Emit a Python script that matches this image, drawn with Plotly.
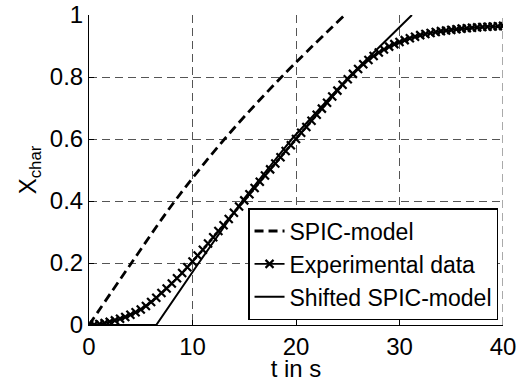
import plotly.graph_objects as go

# SPIC-model (dashed)
spic_t = [0, 4.1, 8.3, 13.1, 18.6, 24.7]
spic_v = [0, 0.2, 0.4, 0.6, 0.8, 1.0]

# Shifted SPIC-model (solid)
shift_t = [0, 6.5, 10.6, 14.8, 19.6, 25.1, 31.2]
shift_v = [0, 0, 0.2, 0.4, 0.6, 0.8, 1.0]

# Experimental data (line with x markers)
exp_t = [i * 0.5 for i in range(81)]
exp_v = [0, 0.001, 0.003, 0.006, 0.01, 0.015, 0.02, 0.026, 0.033, 0.041,
         0.05, 0.061, 0.074, 0.088, 0.103, 0.118, 0.134, 0.151, 0.168, 0.186,
         0.205, 0.224, 0.243, 0.263, 0.283, 0.303, 0.322, 0.342, 0.362, 0.382,
         0.402, 0.422, 0.442, 0.462, 0.482, 0.502, 0.521, 0.541, 0.561, 0.58,
         0.6, 0.62, 0.639, 0.659, 0.678, 0.698, 0.717, 0.737, 0.756, 0.775,
         0.793, 0.81, 0.826, 0.841, 0.855, 0.868, 0.879, 0.889, 0.898, 0.906,
         0.913, 0.919, 0.925, 0.93, 0.935, 0.939, 0.942, 0.945, 0.948, 0.95,
         0.952, 0.954, 0.956, 0.957, 0.959, 0.96, 0.961, 0.962, 0.963, 0.964,
         0.965]

x_ticks = [0, 10, 20, 30, 40]
y_ticks = [0, 0.2, 0.4, 0.6, 0.8, 1]
y_tick_text = ["0", "0.2", "0.4", "0.6", "0.8", "1"]

FONT = "Liberation Sans, Arial, sans-serif"
GRID = "#555"

fig = go.Figure()
fig.add_trace(go.Scatter(x=spic_t, y=spic_v, mode="lines", name="SPIC-model",
                         line=dict(color="black", width=2.8, dash="9px,5px", shape="spline")))
fig.add_trace(go.Scatter(x=exp_t, y=exp_v, mode="lines+markers", name="Experimental data",
                         line=dict(color="black", width=1.8),
                         marker=dict(symbol="x-thin", size=8, color="black",
                                     line=dict(color="black", width=2.2))))
fig.add_trace(go.Scatter(x=shift_t, y=shift_v, mode="lines", name="Shifted SPIC-model",
                         line=dict(color="black", width=2)))

# gridline at the right edge of the axis range
fig.add_shape(type="line", xref="x", yref="y", x0=x_ticks[-1], x1=x_ticks[-1],
              y0=y_ticks[0], y1=y_ticks[-1], layer="below",
              line=dict(color=GRID, width=1, dash="8px,5px"))

fig.update_layout(
    width=517, height=382,
    margin=dict(l=89, r=14, t=15, b=57),
    paper_bgcolor="white", plot_bgcolor="white",
    font=dict(family=FONT, size=24, color="black"),
    showlegend=True,
    legend=dict(x=0.988, y=0.016, xanchor="right", yanchor="bottom",
                bgcolor="white", bordercolor="black", borderwidth=1.5,
                font=dict(size=23), tracegroupgap=0, itemwidth=30),
)
fig.update_xaxes(range=[0, 40], tickvals=x_ticks, ticks="inside", ticklen=5,
                 tickcolor="black", showline=True, linecolor="black", linewidth=1,
                 showgrid=True, gridcolor=GRID, griddash="8px,5px", gridwidth=1,
                 zeroline=False, automargin=False, ticklabeloverflow="allow",
                 title=dict(text="t in s", standoff=0, font=dict(size=24)))
fig.update_yaxes(range=[0, 1], tickvals=y_ticks, ticktext=y_tick_text, ticks="inside",
                 ticklen=5, tickcolor="black", showline=True, linecolor="black", linewidth=1,
                 showgrid=True, gridcolor=GRID, griddash="8px,5px", gridwidth=1,
                 zeroline=False, automargin=False, ticklabeloverflow="allow",
                 title=dict(text="X<sub>char</sub>", standoff=6, font=dict(size=24)))

fig.write_html("out.html", config={"displayModeBar": False},
               post_script="document.body.style.margin='0';")
